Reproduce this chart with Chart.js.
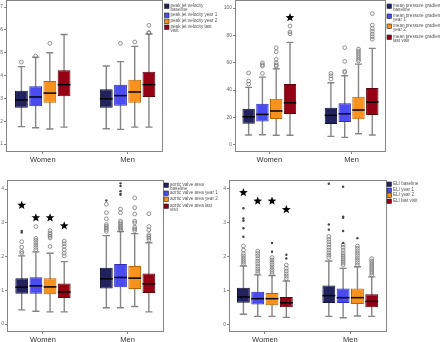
<!DOCTYPE html>
<html>
<head>
<meta charset="utf-8">
<script src="https://cdn.jsdelivr.net/npm/chart.js@4.4.0/dist/chart.umd.min.js"></script>
<style>
html, body { margin: 0; padding: 0; background: #fff; overflow: hidden; }
canvas { position: absolute; }
</style>
</head>
<body>
<canvas id="jet" width="220" height="171" style="left:0;top:0"></canvas>
<canvas id="mpg" width="220" height="171" style="left:220px;top:0"></canvas>
<canvas id="ava" width="220" height="171" style="left:0;top:171px"></canvas>
<canvas id="eli" width="220" height="171" style="left:220px;top:171px"></canvas>
<script>
const groups = ['Women', 'Men'];
const colors = ['#22225e', '#4b4bf2', '#f7921e', '#960014'];
const edges = ['#101038', '#2d2db5', '#b56200', '#5c000a'];

// rows: baseline, year 1, year 2, last visit; columns: Women, Men
const jetLabels = [['peak jet velocity', 'baseline'], ['peak jet velocity year 1'], ['peak jet velocity year 2'], ['peak jet velocity last', 'visit']];
const jetLow = [[1.76, 1.67], [1.71, 1.64], [1.66, 1.74], [1.74, 1.74]];
const jetQ1 = [[2.59, 2.59], [2.66, 2.68], [2.81, 2.81], [3.09, 3.06]];
const jetMed = [[2.93, 2.98], [3.06, 3.12], [3.23, 3.28], [3.60, 3.60]];
const jetQ3 = [[3.33, 3.40], [3.53, 3.60], [3.76, 3.82], [4.23, 4.17]];
const jetHigh = [[4.39, 4.42], [4.80, 4.61], [5.00, 5.28], [5.80, 5.82]];
const jetOut = [[[4.59], []], [[4.85], [5.41]], [[5.41], [5.47]], [[], [5.85, 5.89, 6.20]]];

const mpgLabels = [['mean pressure gradient', 'baseline'], ['mean pressure gradient', 'year 1'], ['mean pressure gradient', 'year 2'], ['mean pressure gradient', 'last visit']];
const mpgLow = [[7.1, 6.1], [7.3, 5.4], [6.9, 8.1], [6.9, 7.1]];
const mpgQ1 = [[15.4, 15.1], [17.1, 16.6], [18.8, 18.6], [22.5, 21.7]];
const mpgMed = [[20.5, 21.5], [22.2, 22.7], [24.7, 25.4], [30.7, 31.2]];
const mpgQ3 = [[26.3, 27.1], [30.0, 30.3], [33.7, 35.1], [44.4, 41.5]];
const mpgHigh = [[42, 45.4], [49.5, 50.5], [55.6, 59], [74.9, 70.5]];
const mpgOut = [[[44.4, 46.6, 52.5], [48.1, 50.5, 52.2]], [[52.2, 57.6, 58.6, 60], [53, 53.7, 61, 71]],
  [[57.6, 58.3, 60, 62.5, 68, 71], [61.3, 62.5, 64, 65.5, 67, 68.5, 70]], [[81.2, 82.5, 86.9], [77.2, 79, 81, 83, 85, 87.6, 95.9]]];
const mpgStar = [[null, null], [null, null], [null, null], [93, null]];

const avaLabels = [['aortic valve area', 'baseline'], ['aortic valve area year 1'], ['aortic valve area year 2'], ['aortic valve area last', 'visit']];
const avaLow = [[0.42, 0.48], [0.38, 0.48], [0.36, 0.52], [0.36, 0.36]];
const avaQ1 = [[0.90, 1.05], [0.90, 1.09], [0.88, 1.04], [0.77, 0.92]];
const avaMed = [[1.09, 1.34], [1.13, 1.38], [1.10, 1.36], [0.95, 1.19]];
const avaQ3 = [[1.36, 1.67], [1.39, 1.78], [1.36, 1.72], [1.20, 1.50]];
const avaHigh = [[2.02, 2.62], [2.14, 2.74], [2.10, 2.68], [1.85, 2.41]];
const avaOut = [[[2.10, 2.15, 2.28, 2.44], [2.75, 2.8, 2.85, 2.9, 2.95, 3.12, 3.3, 3.55]],
  [[2.2, 2.27, 2.34, 2.41, 2.48, 2.54, 2.89], [2.78, 2.82, 2.86, 2.9, 2.95, 3.0, 3.05, 3.3, 3.41]],
  [[2.3, 2.55, 2.6, 2.65, 2.7, 2.77], [2.77, 2.82, 2.87, 3.0, 3.05, 3.26, 3.45, 3.74]],
  [[2.02, 2.1, 2.2, 2.3, 2.38, 2.46], [2.49, 2.55, 2.6, 2.65, 2.79, 2.89, 3.27]]];
const avaExt = [[[2.71, 2.76], [3.66]], [[], [3.83, 3.86, 3.94, 4.09, 4.17]], [[], []], [[], []]];
const avaStar = [[3.52, null], [3.15, null], [3.15, null], [2.91, null]];

const eliLabels = [['ELI baseline'], ['ELI year 1'], ['ELI year 2'], ['ELI last visit']];
const eliLow = [[0.31, 0.25], [0.25, 0.21], [0.25, 0.26], [0.22, 0.25]];
const eliQ1 = [[0.65, 0.64], [0.60, 0.64], [0.58, 0.61], [0.52, 0.52]];
const eliMed = [[0.82, 0.86], [0.77, 0.80], [0.77, 0.80], [0.65, 0.69]];
const eliQ3 = [[1.09, 1.16], [0.97, 1.07], [0.94, 1.07], [0.82, 0.90]];
const eliHigh = [[1.73, 1.88], [1.47, 1.66], [1.45, 1.71], [1.29, 1.41]];
const eliOut = [[[1.78, 1.84, 1.9, 1.96, 2.03, 2.1, 2.2, 2.32], [1.98, 2.05, 2.12, 2.2, 2.28, 2.36, 2.44, 2.52, 2.6]],
  [[1.51, 1.58, 1.65, 1.72, 1.8, 1.87, 1.95, 2.03, 2.1, 2.17], [1.76, 1.82, 1.88, 1.94, 2.0, 2.06, 2.12, 2.2, 2.28, 2.36]],
  [[1.51, 1.57, 1.63, 1.7, 1.77, 1.84, 1.91, 1.98], [1.76, 1.83, 1.9, 1.97, 2.04, 2.11, 2.18, 2.25, 2.32]],
  [[1.36, 1.43, 1.5, 1.58, 1.66, 1.76], [1.46, 1.52, 1.58, 1.64, 1.7, 1.76, 1.82, 1.88, 1.95]]];
const eliExt = [[[2.59, 2.84, 3.06, 3.13, 3.43], [2.8, 2.95, 4.15]], [[], [2.41, 2.76, 3.15, 3.18, 4.06]], [[2.15, 2.41], [2.55]], [[1.95, 2.06], []]];
const eliStar = [[3.89, null], [3.64, null], [3.64, null], [3.39, null]];

const FONT = 'Liberation Sans, Arial, sans-serif';
const GRAY = '#858585';

function drawStar(ctx, cx, cy, r) {
  ctx.beginPath();
  for (let k = 0; k < 10; k++) {
    const rr = k % 2 ? r * 0.42 : r;
    const a = -Math.PI / 2 + k * Math.PI / 5;
    ctx.lineTo(cx + rr * Math.cos(a), cy + rr * Math.sin(a));
  }
  ctx.closePath();
  ctx.fill();
}

// whiskers, medians, outliers, stars, frame and legend
function boxPlugin(p) {
  return {
    id: 'boxes',
    beforeDatasetsDraw(chart) {
      const ctx = chart.ctx, y = chart.scales.y;
      ctx.save();
      ctx.strokeStyle = GRAY;
      ctx.lineWidth = 1.4;
      chart.data.datasets.forEach((ds, i) => {
        chart.getDatasetMeta(i).data.forEach((bar, j) => {
          const cap = bar.width * 0.28;
          const yLo = y.getPixelForValue(ds.lo[j]), yHi = y.getPixelForValue(ds.hi[j]);
          ctx.beginPath();
          ctx.moveTo(bar.x, yHi); ctx.lineTo(bar.x, yLo);
          ctx.moveTo(bar.x - cap, yHi); ctx.lineTo(bar.x + cap, yHi);
          ctx.moveTo(bar.x - cap, yLo); ctx.lineTo(bar.x + cap, yLo);
          ctx.stroke();
        });
      });
      ctx.restore();
    },
    afterDatasetsDraw(chart) {
      const ctx = chart.ctx, y = chart.scales.y;
      ctx.save();
      chart.data.datasets.forEach((ds, i) => {
        chart.getDatasetMeta(i).data.forEach((bar, j) => {
          const half = bar.width / 2;
          const ym = y.getPixelForValue(ds.med[j]);
          ctx.strokeStyle = '#000';
          ctx.lineWidth = 1.5;
          ctx.beginPath();
          ctx.moveTo(bar.x - half, ym); ctx.lineTo(bar.x + half, ym);
          ctx.stroke();
          ctx.strokeStyle = '#777';
          ctx.lineWidth = 0.8;
          (ds.out[j] || []).forEach(v => {
            ctx.beginPath();
            ctx.arc(bar.x, y.getPixelForValue(v), 1.9, 0, Math.PI * 2);
            ctx.stroke();
          });
          ctx.fillStyle = '#444';
          ((ds.ext && ds.ext[j]) || []).forEach(v => {
            ctx.beginPath();
            ctx.arc(bar.x, y.getPixelForValue(v), 1.2, 0, Math.PI * 2);
            ctx.fill();
          });
          if (ds.star && ds.star[j] != null) {
            ctx.fillStyle = '#000';
            drawStar(ctx, bar.x, y.getPixelForValue(ds.star[j]), 4.6);
          }
        });
      });
      ctx.restore();
    },
    afterDraw(chart) {
      const ctx = chart.ctx, a = chart.chartArea;
      ctx.save();
      ctx.strokeStyle = GRAY;
      ctx.lineWidth = 1;
      ctx.strokeRect(Math.round(a.left) + 0.5, Math.round(a.top) + 0.5,
        Math.round(a.right - a.left) - 1, Math.round(a.bottom - a.top) - 1);
      ctx.font = '4.6px ' + FONT;
      ctx.textBaseline = 'middle';
      chart.data.datasets.forEach((ds, i) => {
        const top = p.legY[i];
        ctx.fillStyle = ds.backgroundColor;
        ctx.fillRect(p.legX, top, 4.5, 4.5);
        ctx.strokeStyle = '#222';
        ctx.lineWidth = 0.6;
        ctx.strokeRect(p.legX, top, 4.5, 4.5);
        ctx.fillStyle = '#555';
        ds.label.forEach((line, k) => ctx.fillText(line, p.legX + 6, top + 2 + k * 3.8));
      });
      ctx.restore();
    }
  };
}

function boxChart(id, p) {
  const datasets = p.labels.map((label, i) => ({
    label: label,
    data: groups.map((g, j) => ({ x: j, y: [p.q1[i][j], p.q3[i][j]] })),
    lo: p.lo[i], med: p.med[i], hi: p.hi[i], out: p.out[i],
    ext: p.ext ? p.ext[i] : null, star: p.star ? p.star[i] : null,
    backgroundColor: colors[i],
    borderColor: edges[i],
    borderWidth: 1,
    borderSkipped: false,
    categoryPercentage: 0.67,
    barPercentage: 0.9
  }));
  return new Chart(document.getElementById(id), {
    type: 'bar',
    data: { datasets: datasets },
    options: {
      responsive: false,
      animation: false,
      layout: { padding: { top: p.padTop, right: p.padRight, left: 0, bottom: 0 } },
      plugins: { legend: { display: false }, tooltip: { enabled: false } },
      scales: {
        x: {
          type: 'linear', min: p.xMin, max: p.xMax, offset: false,
          grid: { offset: false, drawOnChartArea: false, tickLength: 2, color: GRAY },
          border: { display: false },
          afterBuildTicks: s => { s.ticks = groups.map((g, j) => ({ value: j })); },
          ticks: { callback: v => groups[v], font: { family: FONT, size: 7.5 }, color: '#333', padding: 1, maxRotation: 0, autoSkip: false },
          afterFit: s => { s.height = p.xH; s.paddingLeft = 0; s.paddingRight = 0; }
        },
        y: {
          min: p.yMin, max: p.yMax,
          grid: { drawOnChartArea: false, tickLength: 2, color: GRAY },
          border: { display: false },
          ticks: { stepSize: p.step, includeBounds: false, font: { family: FONT, size: 5 }, color: '#666', padding: 1 },
          afterFit: s => { s.width = p.yW; s.paddingTop = 0; s.paddingBottom = 0; }
        }
      }
    },
    plugins: [boxPlugin(p)]
  });
}

boxChart('jet', {
  labels: jetLabels, lo: jetLow, q1: jetQ1, med: jetMed, q3: jetQ3, hi: jetHigh, out: jetOut,
  yMin: 0.65, yMax: 7.31, step: 1, xMin: -0.433, xMax: 1.417,
  yW: 6, xH: 19, padTop: 0, padRight: 57, legX: 164.5, legY: [4, 13, 19, 25]
});
boxChart('mpg', {
  labels: mpgLabels, lo: mpgLow, q1: mpgQ1, med: mpgMed, q3: mpgQ3, hi: mpgHigh, out: mpgOut, star: mpgStar,
  yMin: -5.3, yMax: 105.9, step: 20, xMin: -0.417, xMax: 1.418,
  yW: 15, xH: 19, padTop: 0, padRight: 54, legX: 167, legY: [4, 14, 24, 35]
});
boxChart('ava', {
  labels: avaLabels, lo: avaLow, q1: avaQ1, med: avaMed, q3: avaQ3, hi: avaHigh, out: avaOut, ext: avaExt, star: avaStar,
  yMin: -0.237, yMax: 4.27, step: 1, xMin: -0.425, xMax: 1.43,
  yW: 7, xH: 10, padTop: 9, padRight: 56, legX: 164, legY: [12, 20, 26, 33]
});
boxChart('eli', {
  labels: eliLabels, lo: eliLow, q1: eliQ1, med: eliMed, q3: eliQ3, hi: eliHigh, out: eliOut, ext: eliExt, star: eliStar,
  yMin: -0.21, yMax: 4.26, step: 1, xMin: -0.42, xMax: 1.43,
  yW: 9, xH: 10, padTop: 9, padRight: 53, legX: 167, legY: [11, 17, 22, 28]
});
</script>
</body>
</html>
